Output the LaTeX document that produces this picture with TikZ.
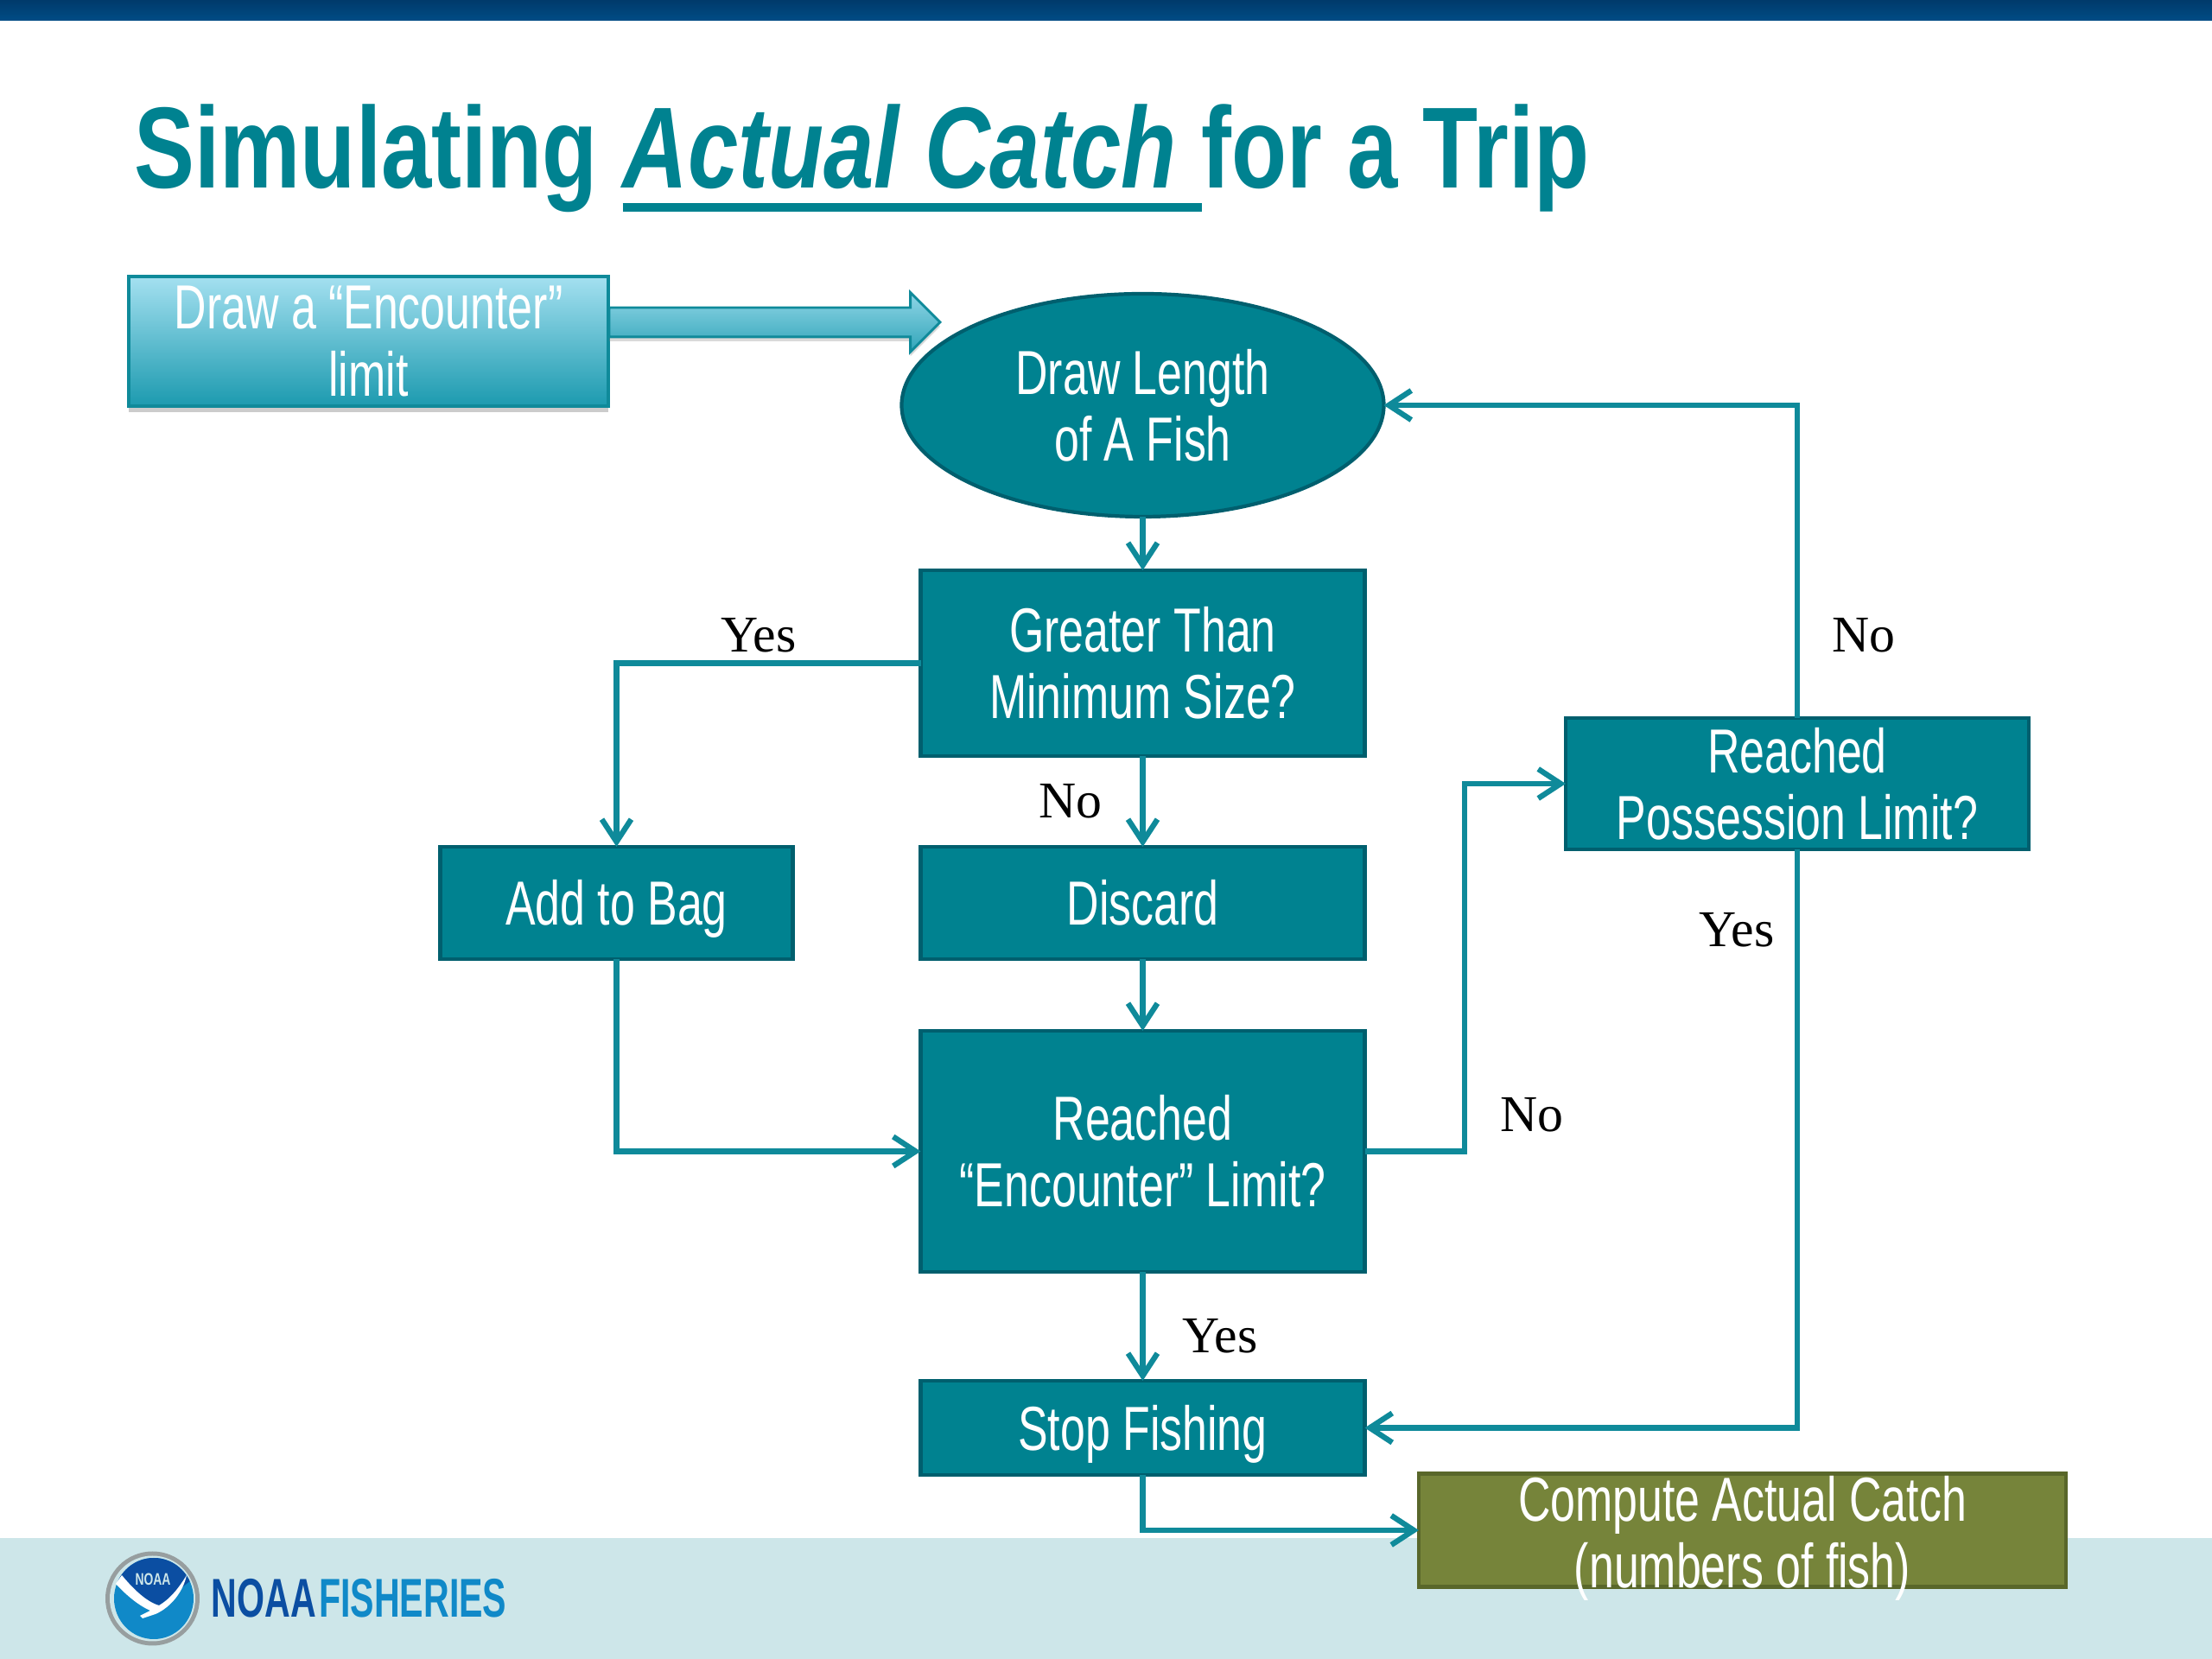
\documentclass[tikz,border=0pt]{standalone}
\usepackage{fontspec}
\setmainfont{Liberation Serif}
\newfontfamily\slidefont[FakeStretch=0.72]{Liberation Sans}
\newfontfamily\titlefont[FakeStretch=0.785]{Liberation Sans}
\newfontfamily\brandfont[FakeStretch=0.65]{Liberation Sans}
\newsavebox{\titlebox}
\newcommand{\rulebelow}[1]{\sbox{\titlebox}{#1}\rlap{\vrule height -4.9pt depth 7.7pt width \wd\titlebox}\usebox{\titlebox}}
\newcommand{\sunkline}[1]{\raisebox{-0.09cm}[0.53cm][0.15cm]{#1}}
\usetikzlibrary{arrows.meta,positioning,shapes.geometric,shapes.arrows,shadows}
\definecolor{tealfill}{HTML}{008290}
\definecolor{tealedge}{HTML}{005F6E}
\definecolor{tealline}{HTML}{0F8A9A}
\definecolor{tealtop}{HTML}{A4E0F0}
\definecolor{tealbase}{HTML}{1C9AAF}
\definecolor{olivefill}{HTML}{76843A}
\definecolor{oliveedge}{HTML}{59672A}
\definecolor{footerbg}{HTML}{CDE6E9}
\definecolor{bandtop}{HTML}{003A6B}
\definecolor{bandlow}{HTML}{004C85}
\definecolor{noaadark}{HTML}{0B4EA2}
\definecolor{noaalight}{HTML}{1089C8}
\begin{document}
\begin{tikzpicture}[
    box/.style={draw=tealedge, fill=tealfill, line width=1.2pt, align=center, inner xsep=0pt, inner ysep=-0.15cm, outer sep=0pt, text=white, font=\slidefont\fontsize{20.5}{22}\selectfont, minimum width=5.14cm},
    oneline/.style={inner ysep=0pt, text height=0.52cm, text depth=0cm},
    arr/.style={-{Straight Barb[length=2.6mm,width=3.4mm]}, line width=1.8pt, draw=tealline},
    lab/.style={font=\fontsize{17}{20}\selectfont, inner sep=0pt}
  ]
    \useasboundingbox (0,0) rectangle (25.6,19.2);
    % slide background
    \fill[footerbg] (0,0) rectangle (25.6,1.4);
    \shade[top color=bandtop, bottom color=bandlow] (0,18.96) rectangle (25.6,19.2);
    \node[anchor=base west, inner sep=0pt, text=tealfill, font=\titlefont\bfseries\fontsize{38}{44}\selectfont] (title) at (1.55,17.02) {Simulating \rulebelow{\textit{Actual Catch}\ }for a Trip};

    % flow
    \node[box, ellipse, minimum width=5.58cm, minimum height=2.58cm] (draw) at (13.225,14.51) {Draw Length\\of A Fish};
    \node[box, minimum height=2.15cm, below=0.62cm of draw] (min) {Greater Than\\Minimum Size?};
    \node[box, oneline, minimum height=1.30cm, below=1.05cm of min] (discard) {Discard};
    \node[box, minimum height=2.79cm, below=0.83cm of discard] (enc) {Reached\\“Encounter” Limit?};
    \node[box, oneline, minimum height=1.09cm, below=1.26cm of enc] (stop) {Stop Fishing};
    \node[box, oneline, minimum width=4.08cm, minimum height=1.30cm, left=1.48cm of discard] (bag) {Add to Bag};
    \node[box, minimum width=5.36cm, minimum height=1.52cm] (poss) at (20.80,10.13) {Reached\\Possession Limit?};
    \node[box, draw=oliveedge, fill=olivefill, minimum width=7.49cm, minimum height=1.31cm] (catch) at (20.165,1.49) {\sunkline{Compute Actual Catch}\\\sunkline{(numbers of fish)}};
    \node[box, draw=tealline, top color=tealtop, bottom color=tealbase, minimum width=5.55cm, minimum height=1.50cm, drop shadow={shadow xshift=0pt, shadow yshift=-0.07cm, opacity=0.4}] (limit) at (4.265,15.25) {Draw a “Encounter”\\limit};
    \node[single arrow, draw=tealline, line width=0.8pt, top color=tealtop!85!tealbase, bottom color=tealbase!85!tealtop, inner sep=0.155cm, outer sep=0pt, minimum height=3.83cm, single arrow head extend=0.175cm, single arrow head indent=0pt, anchor=tail, drop shadow={shadow xshift=0pt, shadow yshift=-0.05cm, opacity=0.3}] (push) at (7.05,15.47) {};

    \coordinate (turn) at (16.95,10.13);
    \draw[arr] (draw) -- (min);
    \draw[arr] (min) -- (discard);
    \draw[arr] (discard) -- (enc);
    \draw[arr] (enc) -- (stop);
    \draw[arr] (min.west) -| (bag.north);
    \draw[arr] (bag.south) |- (enc.west);
    \draw[arr] (enc.east) -| (turn) -- (poss.west);
    \draw[arr] (poss.north) |- (draw.east);
    \draw[arr] (poss.south) |- (stop.east);
    \draw[arr] (stop.south) |- (catch.west);

    \node[lab] (yesbag) at (8.78,11.85) {Yes};
    \node[lab] (nodiscard) at (12.39,9.93) {No};
    \node[lab] (noenc) at (17.73,6.30) {No};
    \node[lab] (yesstop) at (14.12,3.74) {Yes};
    \node[lab] (noposs) at (21.57,11.85) {No};
    \node[lab] (yesposs) at (20.10,8.44) {Yes};

    % logo
    \fill[gray!70!footerbg] (1.765,0.70) circle (0.545);
    \fill[footerbg] (1.765,0.70) circle (0.495);
    \begin{scope}
      \clip (1.78,0.70) ellipse (0.46 and 0.47);
      \fill[noaalight] (1.30,0.20) rectangle (2.26,1.20);
      \fill[noaadark] (1.30,1.20) -- (1.30,0.90) -- (1.82,0.60) -- (2.26,0.95) -- (2.26,1.20) -- cycle;
    \end{scope}
    \fill[white] (1.34,0.87) -- (1.41,0.97) .. controls (1.55,0.80) and (1.70,0.66) .. (1.84,0.62) .. controls (1.98,0.70) and (2.08,0.84) .. (2.16,0.97) .. controls (2.12,0.78) and (1.98,0.60) .. (1.80,0.52) -- (1.65,0.47) -- (1.62,0.50) -- (1.74,0.56) .. controls (1.60,0.62) and (1.45,0.75) .. (1.34,0.87) -- cycle;
    \node[inner sep=0pt, text=footerbg, font=\slidefont\bfseries\fontsize{5.5}{5.5}\selectfont] (seal) at (1.77,0.92) {NOAA};
    \node[anchor=west, inner sep=0pt, font=\brandfont\bfseries\fontsize{18}{18}\selectfont] (brand) at (2.44,0.70) {\textcolor{noaadark}{NOAA}\kern1pt\textcolor{noaalight}{FISHERIES}};
  \end{tikzpicture}
\end{document}
